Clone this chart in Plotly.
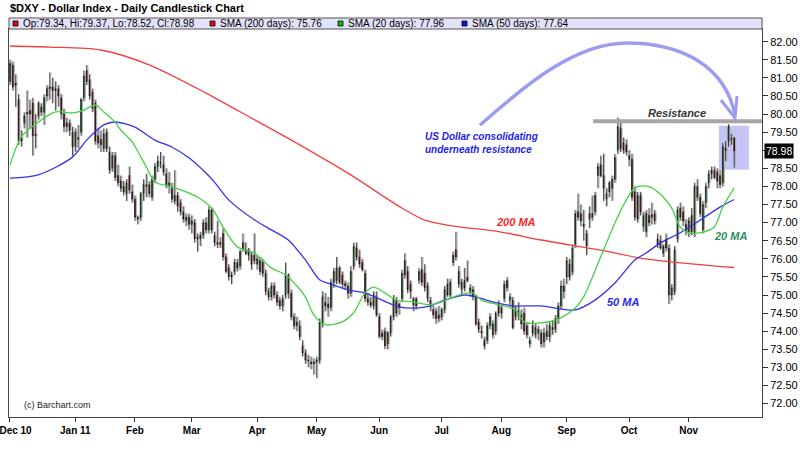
import pandas as pd
import plotly.graph_objects as go

# Daily candles, one per trading day from 1 Dec 2010 to 23 Nov 2011
opens = [
    80.90, 81.35, 80.85, 80.40, 79.35, 79.75, 80.00, 80.10, 80.30, 79.40,
    79.95, 80.20, 80.05, 80.50, 80.70, 80.75, 80.65, 80.70, 80.45, 80.00,
    79.65, 79.75, 79.50, 79.10, 79.30, 79.50, 80.45, 81.20, 80.95, 80.60,
    80.30, 79.40, 79.30, 79.05, 79.50, 78.95, 78.50, 78.85, 78.30, 78.15,
    78.00, 77.80, 78.30, 77.85, 77.65, 77.10, 77.15, 77.80, 78.05, 78.05,
    77.70, 78.20, 78.55, 78.65, 78.60, 78.35, 78.10, 77.95, 77.60, 77.75,
    77.55, 77.30, 77.05, 77.15, 76.95, 77.00, 76.55, 76.55, 76.65, 77.00,
    76.80, 77.35, 76.65, 76.45, 76.45, 76.70, 76.05, 75.75, 75.50, 75.65,
    75.90, 75.80, 76.45, 76.25, 76.25, 76.10, 76.10, 75.85, 75.95, 75.90,
    75.60, 75.10, 74.95, 75.25, 75.00, 74.85, 74.70, 75.00, 75.55, 75.05,
    74.40, 74.15, 74.15, 73.60, 73.40, 73.20, 73.15, 73.10, 73.15, 73.20,
    74.20, 74.80, 74.75, 74.65, 75.35, 75.40, 75.75, 75.55, 75.25, 75.25,
    75.05, 75.80, 76.30, 76.05, 75.90, 75.60, 74.90, 74.80, 74.70, 74.95,
    74.40, 73.95, 74.00, 73.65, 73.95, 74.40, 74.85, 74.65, 74.90, 75.95,
    75.65, 75.30, 74.72, 74.90, 75.40, 75.70, 75.60, 74.90, 74.85, 74.60,
    74.55, 74.45, 74.40, 74.60, 75.30, 75.00, 75.90, 76.25, 75.65, 75.15,
    75.40, 75.50, 75.10, 75.15, 74.95, 74.25, 74.00, 73.75, 73.75, 74.15,
    74.20, 74.00, 74.75, 74.50, 74.90, 75.40, 74.85, 74.85, 74.40, 74.55,
    74.45, 74.50, 74.15, 73.65, 74.15, 73.90, 73.95, 73.95, 73.70, 74.00,
    73.85, 74.10, 74.05, 74.35, 74.70, 75.25, 75.50, 75.85, 75.65, 76.40,
    77.30, 77.25, 76.95, 76.70, 77.10, 77.25, 77.30, 78.30, 78.60, 78.30,
    77.65, 77.85, 77.95, 78.20, 79.00, 79.60, 79.20, 79.15, 78.75, 78.75,
    77.85, 77.75, 77.75, 76.90, 76.75, 77.20, 77.15, 77.25, 76.55, 76.50,
    76.15, 76.55, 76.30, 75.00, 75.10, 76.55, 77.40, 77.30, 76.95, 76.75,
    77.20, 76.70, 78.00, 77.70, 76.80, 77.55, 78.10, 78.35, 78.45, 78.40,
    78.30, 78.10, 79.05, 79.25, 79.30, 79.34,
]
highs = [
    81.50, 81.45, 81.10, 80.55, 79.55, 80.05, 80.65, 80.40, 80.45, 80.00,
    80.35, 80.30, 80.55, 80.80, 81.15, 81.00, 80.90, 80.80, 80.55, 80.15,
    79.90, 79.85, 79.65, 79.60, 79.70, 80.45, 81.20, 81.35, 81.10, 80.70,
    80.40, 79.60, 79.55, 79.60, 79.60, 79.10, 78.95, 78.95, 78.60, 78.30,
    78.15, 78.20, 78.55, 78.05, 77.75, 77.20, 77.85, 78.20, 78.35, 78.15,
    78.30, 78.65, 78.85, 78.95, 78.85, 78.50, 78.40, 78.10, 78.45, 77.85,
    77.65, 77.45, 77.25, 77.25, 77.20, 77.10, 76.70, 76.75, 77.10, 77.15,
    77.45, 77.40, 76.75, 77.05, 76.60, 76.85, 76.15, 75.85, 75.65, 76.00,
    76.00, 76.25, 76.70, 76.45, 76.30, 76.20, 76.70, 76.10, 76.05, 76.00,
    75.70, 75.20, 75.35, 75.35, 75.10, 74.95, 75.00, 75.90, 75.60, 75.15,
    74.50, 74.40, 74.30, 73.75, 73.50, 73.35, 73.30, 73.25, 73.30, 74.35,
    75.10, 75.05, 74.95, 75.45, 75.75, 76.05, 75.80, 75.65, 75.40, 75.35,
    75.80, 76.45, 76.45, 76.25, 76.00, 75.70, 75.05, 74.95, 75.10, 75.10,
    74.50, 74.05, 74.10, 74.00, 74.45, 75.00, 74.95, 74.80, 75.70, 76.15,
    75.80, 75.40, 74.95, 74.95, 75.75, 76.05, 75.85, 75.35, 74.95, 74.70,
    74.65, 74.70, 74.65, 75.25, 75.45, 75.45, 76.20, 76.75, 75.80, 75.45,
    75.75, 75.95, 75.30, 75.25, 75.00, 74.35, 74.15, 73.85, 74.25, 74.50,
    74.30, 74.55, 74.85, 74.70, 75.40, 75.50, 75.05, 74.95, 74.70, 74.80,
    74.60, 74.65, 74.25, 73.85, 74.30, 74.20, 74.15, 74.05, 74.10, 74.20,
    74.25, 74.30, 74.45, 74.80, 75.40, 75.45, 76.05, 76.00, 76.40, 77.35,
    77.80, 77.50, 77.35, 76.80, 77.45, 77.75, 77.85, 78.65, 78.85, 78.90,
    77.95, 78.15, 78.30, 78.90, 79.90, 79.80, 79.35, 79.30, 79.00, 78.90,
    78.00, 77.85, 77.85, 77.30, 77.35, 77.40, 77.55, 77.35, 76.70, 76.65,
    76.40, 76.70, 76.40, 75.30, 76.35, 77.45, 77.55, 77.45, 77.10, 77.15,
    77.40, 78.10, 78.20, 77.80, 77.60, 78.10, 78.45, 78.55, 78.55, 78.50,
    78.45, 79.20, 79.25, 79.72, 79.45, 79.37,
]
lows = [
    80.80, 80.65, 80.20, 79.15, 79.10, 79.60, 79.35, 79.60, 78.85, 79.05,
    79.85, 79.95, 79.70, 80.35, 80.40, 80.30, 80.10, 80.20, 79.85, 79.50,
    79.50, 79.40, 78.85, 78.95, 79.05, 79.40, 80.35, 80.80, 80.40, 80.05,
    79.15, 79.05, 78.95, 78.95, 78.95, 78.35, 78.40, 78.15, 78.00, 77.85,
    77.75, 77.60, 77.80, 77.55, 77.05, 76.95, 77.05, 77.60, 77.70, 77.70,
    77.60, 78.10, 78.40, 78.50, 78.30, 77.95, 77.80, 77.55, 77.50, 77.30,
    77.20, 77.00, 76.90, 76.80, 76.70, 76.45, 76.20, 76.35, 76.55, 76.70,
    76.70, 76.70, 76.35, 76.30, 76.30, 75.95, 75.60, 75.40, 75.30, 75.55,
    75.65, 75.70, 76.20, 76.10, 75.95, 75.70, 75.85, 75.70, 75.55, 75.50,
    75.00, 74.85, 74.85, 74.90, 74.70, 74.60, 74.55, 74.90, 74.90, 74.30,
    74.05, 74.00, 73.75, 73.30, 73.10, 73.00, 72.95, 72.80, 72.70, 73.10,
    74.10, 74.55, 74.40, 74.55, 75.20, 75.30, 75.30, 75.20, 75.15, 74.90,
    74.95, 75.70, 75.95, 75.75, 75.65, 74.80, 74.70, 74.65, 74.60, 74.40,
    73.80, 73.75, 73.50, 73.50, 73.85, 74.30, 74.40, 74.45, 74.80, 75.45,
    75.05, 74.90, 74.55, 74.60, 75.30, 75.25, 75.10, 74.80, 74.55, 74.35,
    74.20, 74.25, 74.30, 74.50, 74.95, 74.90, 75.80, 75.95, 75.20, 75.00,
    75.10, 75.35, 74.95, 74.85, 74.15, 73.95, 73.80, 73.50, 73.65, 74.05,
    73.80, 73.90, 74.40, 74.35, 74.80, 75.10, 74.70, 74.05, 74.30, 74.30,
    74.05, 73.90, 73.80, 73.55, 73.85, 73.80, 73.75, 73.55, 73.55, 73.75,
    73.70, 73.90, 73.95, 74.20, 74.60, 74.90, 75.30, 75.40, 75.55, 76.30,
    77.05, 76.90, 76.50, 76.10, 76.85, 77.05, 77.20, 77.95, 78.25, 77.60,
    77.45, 77.70, 77.60, 78.10, 78.90, 78.95, 78.90, 78.85, 78.55, 77.60,
    77.05, 77.00, 77.20, 76.75, 76.60, 76.90, 76.95, 76.95, 76.30, 76.25,
    76.05, 76.20, 74.75, 74.85, 75.00, 76.45, 77.05, 76.90, 76.65, 76.60,
    76.65, 76.60, 77.60, 77.15, 76.70, 77.40, 77.95, 78.20, 78.20, 77.95,
    77.95, 78.00, 78.70, 79.10, 79.15, 78.52,
]
closes = [
    81.40, 80.75, 80.80, 79.25, 79.25, 79.95, 80.05, 80.00, 79.40, 79.45,
    80.30, 80.05, 80.45, 80.70, 80.75, 80.65, 80.70, 80.50, 80.00, 79.65,
    79.75, 79.55, 79.10, 79.50, 79.35, 80.40, 81.05, 80.90, 80.50, 80.15,
    79.25, 79.20, 79.15, 79.45, 79.05, 78.45, 78.85, 78.25, 78.10, 77.95,
    77.85, 78.10, 77.90, 77.65, 77.15, 77.15, 77.80, 78.05, 78.00, 77.80,
    78.20, 78.55, 78.70, 78.65, 78.40, 78.05, 78.00, 77.65, 77.75, 77.45,
    77.30, 77.10, 77.15, 76.95, 77.05, 76.55, 76.60, 76.65, 77.00, 76.80,
    77.35, 76.80, 76.45, 76.40, 76.40, 76.05, 75.65, 75.50, 75.55, 75.90,
    75.75, 76.20, 76.25, 76.15, 76.10, 75.85, 75.95, 76.00, 75.65, 75.60,
    75.10, 74.95, 75.25, 75.00, 74.80, 74.70, 74.90, 75.55, 75.05, 74.40,
    74.15, 74.25, 73.85, 73.40, 73.20, 73.18, 73.10, 73.15, 73.20, 74.25,
    74.95, 74.70, 74.65, 75.35, 75.65, 75.75, 75.35, 75.30, 75.32, 75.05,
    75.65, 76.35, 76.05, 75.85, 75.70, 74.90, 74.80, 74.72, 75.00, 74.45,
    73.85, 73.85, 73.60, 73.95, 74.40, 74.90, 74.50, 74.75, 75.60, 75.55,
    75.15, 75.10, 74.90, 74.70, 75.65, 75.35, 75.20, 75.25, 74.70, 74.45,
    74.35, 74.35, 74.60, 75.15, 75.00, 75.35, 76.10, 76.05, 75.30, 75.35,
    75.20, 75.40, 75.20, 74.95, 74.20, 74.05, 73.95, 73.60, 74.15, 74.40,
    73.90, 74.50, 74.50, 74.65, 75.30, 75.20, 74.95, 74.10, 74.60, 74.45,
    74.20, 74.00, 73.90, 73.75, 73.95, 74.10, 74.05, 73.65, 73.95, 73.85,
    74.15, 74.05, 74.35, 74.70, 75.25, 75.10, 75.95, 75.50, 76.30, 77.25,
    77.15, 77.05, 76.90, 76.35, 77.25, 77.15, 77.75, 78.55, 78.30, 77.95,
    77.80, 78.10, 78.20, 78.80, 79.65, 79.05, 79.00, 78.95, 78.85, 77.70,
    77.15, 77.10, 77.30, 77.20, 77.25, 77.00, 77.22, 77.05, 76.40, 76.30,
    76.35, 76.30, 75.00, 75.20, 76.25, 77.35, 77.15, 77.05, 76.75, 77.05,
    76.75, 78.00, 77.70, 77.25, 77.50, 78.00, 78.35, 78.45, 78.25, 78.15,
    78.05, 79.10, 79.00, 79.65, 79.32, 78.98,
]

month_labels = ["Dec 10", "Jan 11", "Feb", "Mar", "Apr", "May", "Jun",
                "Jul", "Aug", "Sep", "Oct", "Nov"]

sma20_days = [0, 4, 10, 16, 22, 26, 30, 33, 37, 39, 43, 48, 51, 57, 63, 66, 71, 75, 80, 86,
              92, 97, 100, 104, 107, 111, 117, 121, 125, 128, 132, 136, 142, 148, 152, 158,
              163, 166, 172, 178, 181, 187, 194, 199, 202, 208, 213, 217, 220, 224, 226,
              230, 233, 236, 239, 244, 248, 251, 255]
sma20 = [78.59, 79.37, 79.78, 80.06, 80.03, 80.11, 80.25, 80.06, 79.78, 79.56, 79.23, 78.54,
         78.12, 77.99, 77.82, 77.71, 77.41, 76.88, 76.33, 76.16, 75.75, 75.56, 75.34, 74.95,
         74.45, 74.18, 74.26, 74.51, 75.06, 75.22, 75.06, 74.86, 74.81, 74.73, 74.81, 75.00,
         75.06, 74.86, 74.73, 74.59, 74.26, 74.23, 74.37, 74.64, 74.95, 76.05, 76.99, 77.62,
         77.96, 78.01, 77.96, 77.71, 77.40, 76.88, 76.72, 76.74, 76.88, 77.43, 77.96]
sma50_days = [0, 10, 22, 27, 33, 37, 44, 51, 57, 63, 69, 72, 77, 86, 92, 98, 104, 109, 112,
              119, 125, 131, 137, 143, 148, 153, 160, 164, 170, 177, 187, 199, 206, 213, 220,
              224, 229, 236, 243, 250, 255]
sma50 = [78.23, 78.32, 78.81, 79.28, 79.70, 79.78, 79.64, 79.28, 79.09, 78.79, 78.37, 78.12,
         77.63, 77.08, 76.80, 76.52, 75.97, 75.42, 75.33, 75.14, 75.06, 74.86, 74.67, 74.64,
         74.70, 74.86, 75.00, 74.95, 74.81, 74.70, 74.70, 74.59, 74.86, 75.33, 75.97, 76.16,
         76.44, 76.72, 77.07, 77.43, 77.64]
sma200_days = [0, 14, 32, 49, 69, 85, 102, 120, 137, 146, 155, 173, 187, 208, 222, 236, 255]
sma200 = [81.88, 81.85, 81.77, 81.36, 80.58, 79.89, 79.15, 78.32, 77.45, 77.07, 76.92, 76.74,
          76.52, 76.24, 76.02, 75.89, 75.76]

resistance = 79.80
box_low, box_high = 78.46, 79.68

dates = pd.bdate_range("2010-12-01", periods=len(closes))
days = list(range(len(closes)))
month_starts = [k for k in days if k == 0 or dates[k].month != dates[k - 1].month]
hover = [d.strftime("%b %d, %Y") for d in dates]

FONT = "Liberation Sans, Arial, sans-serif"
NARROW = "Liberation Sans Narrow, Arial Narrow, Liberation Sans, Arial"

# plot area in page pixels (800x454 page)
L, T, W, H = 9, 29, 753, 388
X_RANGE = [-0.35, 264.8]


def px(x, y):
    """page pixel -> paper coords"""
    return (x - L) / W, (T + H - y) / H


fig = go.Figure()

# grey drop shadow behind candles
fig.add_trace(go.Candlestick(
    x=[d + 0.4 for d in days], open=opens, high=highs, low=lows, close=closes,
    increasing=dict(line=dict(color="#b0b0b0", width=1), fillcolor="#b0b0b0"),
    decreasing=dict(line=dict(color="#b0b0b0", width=1), fillcolor="#b0b0b0"),
    hoverinfo="skip", showlegend=False,
))
fig.add_trace(go.Candlestick(
    x=days, open=opens, high=highs, low=lows, close=closes, name="$DXY", text=hover,
    increasing=dict(line=dict(color="#000000", width=0.7), fillcolor="#22cc22"),
    decreasing=dict(line=dict(color="#000000", width=0.7), fillcolor="#dd1111"),
    showlegend=False,
))

for xs, vals, color in [(sma200_days, sma200, "#f24040"),
                        (sma50_days, sma50, "#3434e8"),
                        (sma20_days, sma20, "#48d048")]:
    fig.add_trace(go.Scatter(
        x=xs, y=vals, mode="lines",
        line=dict(color=color, width=1.3, shape="spline", smoothing=0.8),
        hoverinfo="skip", showlegend=False,
    ))

shapes = []
# header strip with the legend
x0, y1 = px(L, 18)
shapes.append(dict(type="rect", xref="paper", yref="paper", x0=0, x1=1, y0=1, y1=y1,
                   fillcolor="#e2e2fa", line=dict(color="#555555", width=1)))
legend_items = [
    (13, "#dd1111", f"Op:{opens[-1]:.2f}, Hi:{highs[-1]:.2f}, Lo:{lows[-1]:.2f}, Cl:{closes[-1]:.2f}"),
    (210, "#dd1111", f"SMA (200 days): {sma200[-1]:.2f}"),
    (338, "#11bb11", f"SMA (20 days): {sma20[-1]:.2f}"),
    (462, "#1111dd", f"SMA (50 days): {sma50[-1]:.2f}"),
]
annotations = []
for lx, col, txt in legend_items:
    a0, b0 = px(lx, 26)
    a1, b1 = px(lx + 5, 21)
    shapes.append(dict(type="rect", xref="paper", yref="paper", x0=a0, x1=a1, y0=b0, y1=b1,
                       fillcolor=col, line=dict(color="#000000", width=0.8)))
    tx, ty = px(lx + 8, 23.5)
    annotations.append(dict(xref="paper", yref="paper", x=tx, y=ty, text=txt,
                            showarrow=False, xanchor="left", yanchor="middle",
                            font=dict(family=FONT, size=10, color="#000000")))

# consolidation box and resistance line
shapes.append(dict(type="rect", xref="x", yref="y", x0=249.6, x1=260.2,
                   y0=box_low, y1=box_high, fillcolor="#c4c4f6", line=dict(width=0),
                   layer="below"))
shapes.append(dict(type="line", xref="x", yref="y", x0=205.3, x1=X_RANGE[1],
                   y0=resistance, y1=resistance, line=dict(color="#a6a6a6", width=4)))

# curved arrow
arc = [(480, 125), (515, 95), (570, 43), (627, 43), (680, 43), (725, 65), (735, 115)]
p = [px(*q) for q in arc]
path = (f"M {p[0][0]},{p[0][1]} C {p[1][0]},{p[1][1]} {p[2][0]},{p[2][1]} {p[3][0]},{p[3][1]} "
        f"C {p[4][0]},{p[4][1]} {p[5][0]},{p[5][1]} {p[6][0]},{p[6][1]}")
shapes.append(dict(type="path", xref="paper", yref="paper", path=path,
                   line=dict(color="#9c9cf0", width=3.5)))
h = [px(721, 100), px(735, 118), px(737, 96)]
shapes.append(dict(type="path", xref="paper", yref="paper",
                   path=f"M {h[0][0]},{h[0][1]} L {h[1][0]},{h[1][1]} L {h[2][0]},{h[2][1]}",
                   line=dict(color="#9c9cf0", width=3)))


def note(x, y, text, color, size=11, anchor="center", family=FONT):
    ax, ay = px(x, y)
    annotations.append(dict(xref="paper", yref="paper", x=ax, y=ay, text=text,
                            showarrow=False, xanchor=anchor, yanchor="middle", align="left",
                            font=dict(family=family, size=size, color=color)))


note(8, 8, "<b>$DXY - Dollar Index - Daily Candlestick Chart</b>", "#000000", anchor="left")
note(677, 113, "<b><i>Resistance</i></b>", "#333333")
note(423, 143, "<b><i>US Dollar consolidating<br>underneath resistance</i></b>", "#1e1ee8",
     size=10, anchor="left")
note(516, 222, "<b><i>200 MA</i></b>", "#f22a2a")
note(623, 302, "<b><i>50 MA</i></b>", "#2a2ae0")
note(730, 236, "<b><i>20 MA</i></b>", "#2a8f5a")
note(22, 405, "(c) Barchart.com", "#222222", size=9, anchor="left", family=NARROW)

# last price flag on the right axis
annotations.append(dict(xref="paper", yref="y", x=1, y=closes[-1], xanchor="left", xshift=2,
                        text=f"{closes[-1]:.2f}", showarrow=False, bgcolor="#000000",
                        borderpad=1, font=dict(family=FONT, size=10.5, color="#ffffff")))

# right axis ticks every 0.50; the label under the price flag is left blank
y_ticks = [72 + 0.5 * k for k in range(21)]
y_text = ["" if abs(v - closes[-1]) < 0.2 else f"{v:.2f}" for v in y_ticks]

# first month label sits on the left edge: pad it so it stays on the page
x_text = [f"<b>{m}</b>" for m in month_labels]
x_text[0] = "&nbsp;" * 4 + x_text[0]

fig.update_layout(
    width=800, height=454,
    margin=dict(l=L, r=800 - L - W, t=T, b=454 - T - H, autoexpand=False),
    paper_bgcolor="white", plot_bgcolor="white",
    boxgap=0.05,
    shapes=shapes, annotations=annotations,
    showlegend=False,
    xaxis=dict(
        range=X_RANGE,
        automargin=False,
        rangeslider=dict(visible=False),
        tickvals=month_starts, ticktext=x_text,
        ticklabeloverflow="allow",
        ticks="outside", ticklen=4, tickcolor="#333333",
        tickfont=dict(family=NARROW, size=10, color="#000000"),
        showgrid=False, zeroline=False,
        showline=True, linecolor="#444444", linewidth=1, mirror=True,
    ),
    yaxis=dict(
        side="right",
        range=[71.63, 82.35],
        automargin=False,
        tickvals=y_ticks, ticktext=y_text,
        ticks="outside", ticklen=5, tickcolor="#333333",
        tickfont=dict(family=FONT, size=11, color="#000000"),
        showgrid=False, zeroline=False,
        showline=True, linecolor="#444444", linewidth=1, mirror=True,
    ),
)

# the page's default body margin would push the 800x454 figure off by 8px
fig.write_html("out.html", config={"displayModeBar": False},
               post_script="document.body.style.margin = '0';")
